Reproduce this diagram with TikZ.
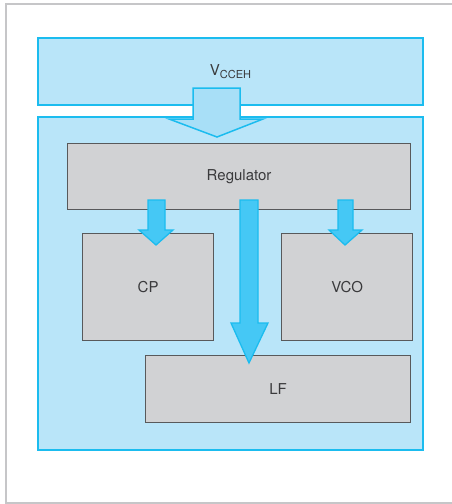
\documentclass[tikz,border=0pt]{standalone}
\usepackage{fontspec}
\setmainfont{TeX Gyre Heros}
\definecolor{panelfill}{HTML}{B9E5F9}
\definecolor{panelline}{HTML}{1BBCEF}
\definecolor{blockfill}{HTML}{D1D2D4}
\definecolor{blockline}{HTML}{58595B}
\definecolor{arrowfill}{HTML}{45C8F5}
\definecolor{supplyfill}{HTML}{A8DFF7}
\definecolor{framegray}{HTML}{C6C6C8}
\definecolor{labelgray}{HTML}{3A3A3C}
\begin{document}
\begin{tikzpicture}[x=1pt,y=-1pt,
  panel/.style={draw=panelline,fill=panelfill,line width=2pt,inner sep=0pt},
  block/.style={draw=blockline,fill=blockfill,line width=1.2pt,inner sep=0pt,
    text=labelgray,font=\fontsize{15}{18}\selectfont},
  blockarrow/.style={draw=panelline,fill=arrowfill,line width=1.3pt,line join=miter},
  supplyarrow/.style={draw=panelline,fill=supplyfill,line width=1.5pt,line join=miter}]
\useasboundingbox (0,0) rectangle (452,504);
% outer frame, open on the right
\draw[framegray,line width=2pt] (452,4) -- (6,4) -- (6,503) -- (452,503);
% supply panel and chip panel
\node[panel,minimum width=385pt,minimum height=67pt,anchor=north west,
  text=labelgray,font=\fontsize{15}{18}\selectfont] (supply) at (37,37)
  {\raisebox{0pt}{V}\raisebox{-3.2pt}{\fontsize{11}{13}\selectfont CCEH}};
\node[panel,minimum width=385pt,minimum height=333pt,anchor=north west] (chip) at (37,116) {};
% functional blocks
\node[block,minimum width=343pt,minimum height=66pt,anchor=north west] (reg) at (67,143) {Regulator};
\node[block,minimum width=131pt,minimum height=107pt,anchor=north west] (cp) at (82,233) {CP};
\node[block,minimum width=131pt,minimum height=107pt,anchor=north west] (vco) at (281,233) {VCO};
\node[block,minimum width=265pt,minimum height=67pt,anchor=north west] (lf) at (145,355) {LF};
% supply arrow into the chip
\draw[supplyarrow] (193,88) -- (240,88) -- (240,119) -- (263,119) -- (217,137)
  -- (169,119) -- (193,119) -- cycle;
% regulator outputs
\draw[blockarrow] (148,200) -- (165,200) -- (165,230) -- (173,230) -- (156,245)
  -- (139,230) -- (148,230) -- cycle;
\draw[blockarrow] (338,200) -- (353,200) -- (353,230) -- (362,230) -- (345,245)
  -- (329,230) -- (338,230) -- cycle;
\draw[blockarrow] (240,200) -- (258,200) -- (258,323) -- (268,323) -- (249,363)
  -- (231,323) -- (240,323) -- cycle;
\end{tikzpicture}
\end{document}
